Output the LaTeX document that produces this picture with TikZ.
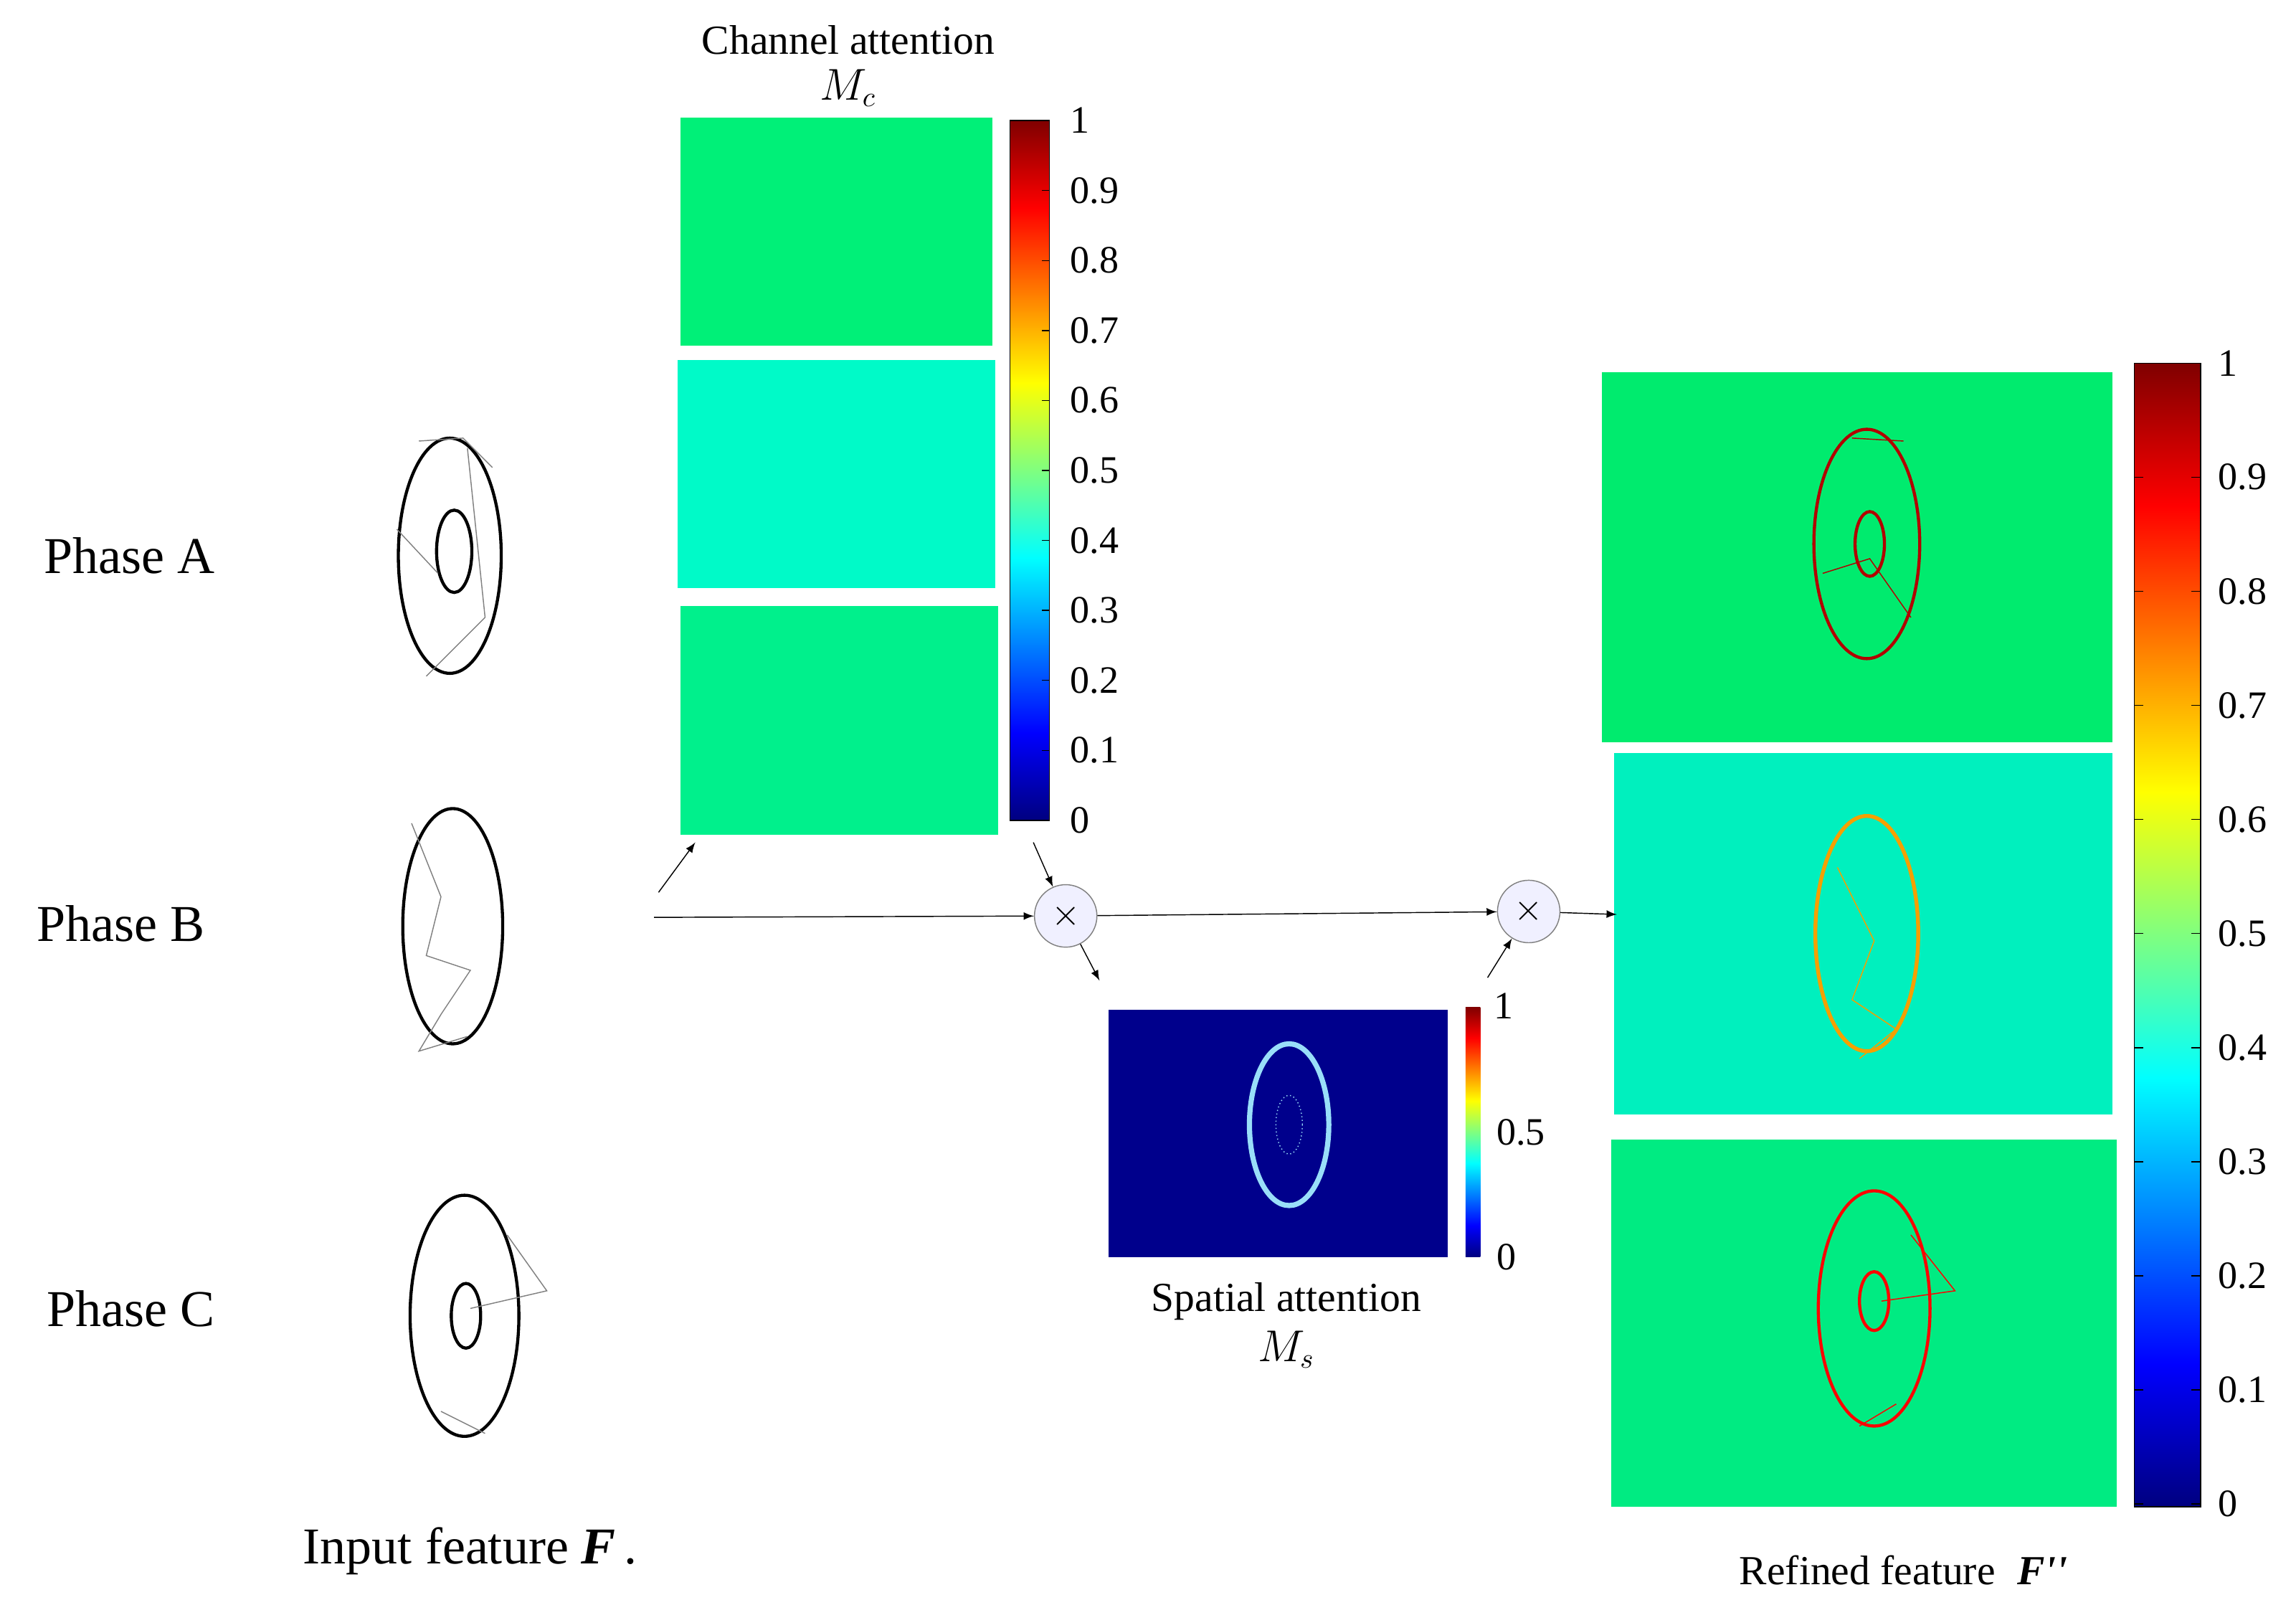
\documentclass[tikz,border=0pt]{standalone}
\usepackage{fontspec}
\setmainfont{Liberation Serif}
\begin{document}
\pgfdeclareverticalshading{jet}{100bp}{
 color(0bp)=(rgb,1:red,0;green,0;blue,0.5);
 color(25bp)=(rgb,1:red,0;green,0;blue,0.5);
 color(31.25bp)=(rgb,1:red,0;green,0;blue,1);
 color(43.75bp)=(rgb,1:red,0;green,1;blue,1);
 color(56.25bp)=(rgb,1:red,1;green,1;blue,0);
 color(68.75bp)=(rgb,1:red,1;green,0;blue,0);
 color(75bp)=(rgb,1:red,0.5;green,0;blue,0);
 color(100bp)=(rgb,1:red,0.5;green,0;blue,0)}
\definecolor{gA}{RGB}{0,240,120}
\definecolor{gB}{RGB}{0,250,200}
\definecolor{gC}{RGB}{0,240,140}
\definecolor{rA}{RGB}{0,235,110}
\definecolor{rB}{RGB}{0,240,190}
\definecolor{rC}{RGB}{0,235,130}
\definecolor{sp}{RGB}{0,0,140}
\definecolor{orng}{RGB}{245,160,0}
\begin{tikzpicture}[x=0.02cm,y=-0.02cm,
 lab/.style={font=\fontsize{20}{22}\selectfont},
 tick/.style={font=\fontsize{15}{17}\selectfont,anchor=west},
 ttl/.style={font=\fontsize{16}{18}\selectfont},
 arr/.style={-latex,thin},
 mul/.style={circle,draw=gray,fill=blue!6,minimum size=0.85cm,inner sep=0pt,font=\Large},
 sk/.style={line width=1.2pt}]
\useasboundingbox (0,0) rectangle (1562,1088);
% titles
\node[ttl] (ct) at (577,27) {Channel attention};
\node[ttl] (mc) at (577,60) {$M_c$};
\node[ttl] (st) at (875,885) {Spatial attention};
\node[ttl] (ms) at (875,918) {$M_s$};
% phases
\node[lab] (pa) at (88,378) {Phase A};
\node[lab] (pb) at (82,628) {Phase B};
\node[lab] (pc) at (89,890) {Phase C};
\node[lab] (inp) at (320,1055) {Input feature \textbf{\textit{F}}\,.};
\node[ttl] (ref) at (1295,1068) {Refined feature \;\textbf{\textit{F\textquotesingle\textquotesingle}}};
% input sketches
\draw[sk] (306,378) ellipse (35 and 80);
\draw[sk] (309,375) ellipse (12 and 28);
\draw[gray] (285,300)--(315,298)--(335,318) (270,360)--(298,390) (318,305)--(330,420)--(290,460);
\draw[sk] (308,630) ellipse (34 and 80);
\draw[gray] (280,560)--(300,610)--(290,650)--(320,660)--(300,690)--(285,715)--(318,705);
\draw[sk] (316,895) ellipse (37 and 82);
\draw[sk] (317,895) ellipse (10 and 22);
\draw[gray] (320,890)--(372,878)--(345,840) (300,960)--(330,975);
% channel maps
\fill[gA] (463,80) rectangle (675,235);
\fill[gB] (461,245) rectangle (677,400);
\fill[gC] (463,412) rectangle (679,568);
\shade[shading=jet] (687,82) rectangle (714,558);
\draw[thin] (687,82) rectangle (714,558);
\foreach \v [count=\i from 0] in {0,0.1,0.2,0.3,0.4,0.5,0.6,0.7,0.8,0.9,1}{
  \draw (714,{558-47.6*\i})--(709,{558-47.6*\i});
  \node[tick] at (722,{558-47.6*\i}) {\v};}
% spatial
\fill[sp] (754,687) rectangle (985,855);
\draw[cyan!40,line width=2pt] (877,765) ellipse (27 and 55);
\draw[cyan!40,densely dotted] (877,765) ellipse (9 and 20);
\shade[shading=jet] (997,685) rectangle (1007,855);
\node[tick] at (1010,684) {1};
\node[tick] at (1012,770) {0.5};
\node[tick] at (1012,855) {0};
% refined maps
\fill[rA] (1090,253) rectangle (1437,505);
\draw[red!70!black,line width=1.2pt] (1270,370) ellipse (36 and 78) (1272,370) ellipse (10 and 22);
\draw[red!70!black] (1240,390)--(1272,380)--(1300,420) (1260,298)--(1295,300);
\fill[rB] (1098,512) rectangle (1437,758);
\draw[orng,line width=1.5pt] (1270,635) ellipse (35 and 80);
\draw[orng] (1250,590)--(1275,640)--(1260,680)--(1290,700)--(1265,720);
\fill[rC] (1096,775) rectangle (1440,1025);
\draw[red,line width=1.2pt] (1275,890) ellipse (38 and 80) (1275,885) ellipse (10 and 20);
\draw[red] (1280,885)--(1330,878)--(1300,840) (1265,970)--(1290,955);
\shade[shading=jet] (1452,247) rectangle (1497,1025);
\draw[thin] (1452,247) rectangle (1497,1025);
\foreach \v [count=\i from 0] in {0,0.1,0.2,0.3,0.4,0.5,0.6,0.7,0.8,0.9,1}{
  \draw (1497,{1023-77.6*\i})--(1491,{1023-77.6*\i});
  \draw (1452,{1023-77.6*\i})--(1458,{1023-77.6*\i});
  \node[tick] at (1503,{1023-77.6*\i}) {\v};}
% operators
\node[mul] (m1) at (725,623) {$\times$};
\node[mul] (m2) at (1040,620) {$\times$};
\coordinate (s0) at (445,624);
\coordinate (c0) at (448,607); \coordinate (c1) at (473,573);
\coordinate (c2) at (703,573); \coordinate (c3) at (748,667);
\coordinate (c4) at (1012,665); \coordinate (c5) at (1100,622);
\draw[arr] (s0)--(m1);
\draw[arr] (c0)--(c1);
\draw[arr] (c2)--(m1);
\draw[arr] (m1)--(c3);
\draw[arr] (m1)--(m2);
\draw[arr] (c4)--(m2);
\draw[arr] (m2)--(c5);
\end{tikzpicture}
\end{document}
